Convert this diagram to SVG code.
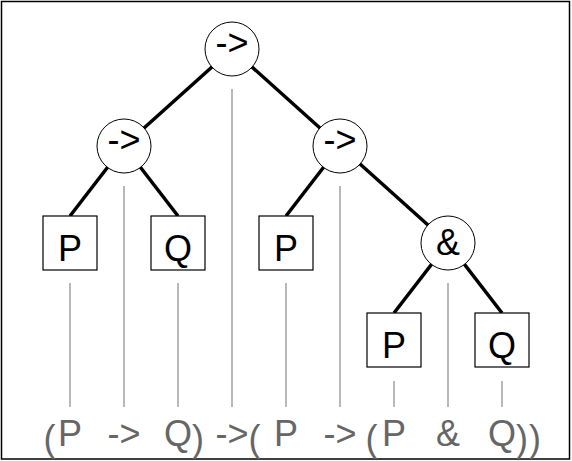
<svg xmlns="http://www.w3.org/2000/svg" width="572" height="461" viewBox="0 0 572 461">
<style>
  .edge { stroke: #000; stroke-width: 3.5; fill: none; }
  .guide { stroke: #a0a0a0; stroke-width: 1.5; fill: none; }
  .op { fill: #fff; stroke: #000; stroke-width: 1; }
  .leaf { fill: #fff; stroke: #000; stroke-width: 1.2; }
  .lbl { font-family: "Liberation Sans", Arial, sans-serif; font-size: 36px; fill: #000; text-anchor: middle; }
  .expr { font-family: "Liberation Sans", Arial, sans-serif; font-size: 36px; fill: #666; }
  .mid { text-anchor: middle; }
</style>
<rect x="0" y="0" width="572" height="461" fill="#fff"/>
<rect x="1.5" y="1.5" width="568" height="457.5" fill="none" stroke="#000" stroke-width="1.5"/>
<g id="guides">
  <line class="guide" x1="70" y1="283" x2="70" y2="407"/>
  <line class="guide" x1="124" y1="186" x2="124" y2="407"/>
  <line class="guide" x1="178" y1="283" x2="178" y2="407"/>
  <line class="guide" x1="232" y1="89" x2="232" y2="407"/>
  <line class="guide" x1="286" y1="283" x2="286" y2="407"/>
  <line class="guide" x1="340" y1="186" x2="340" y2="407"/>
  <line class="guide" x1="394" y1="381" x2="394" y2="407"/>
  <line class="guide" x1="448" y1="283" x2="448" y2="407"/>
  <line class="guide" x1="502" y1="381" x2="502" y2="407"/>
</g>
<g id="connectors">
  <line class="edge" x1="232" y1="49" x2="124" y2="146"/>
  <line class="edge" x1="232" y1="49" x2="340" y2="146"/>
  <line class="edge" x1="124" y1="146" x2="70" y2="216"/>
  <line class="edge" x1="124" y1="146" x2="178" y2="216"/>
  <line class="edge" x1="340" y1="146" x2="286" y2="216"/>
  <line class="edge" x1="340" y1="146" x2="448" y2="243"/>
  <line class="edge" x1="448" y1="243" x2="394" y2="313"/>
  <line class="edge" x1="448" y1="243" x2="502" y2="313"/>
</g>
<g id="n-root">
  <circle class="op" cx="232" cy="49" r="27"/>
  <text class="lbl" x="232" y="55">-&gt;</text>
</g>
<g id="n-left">
  <circle class="op" cx="124" cy="146" r="27"/>
  <text class="lbl" x="124" y="152">-&gt;</text>
</g>
<g id="n-right">
  <circle class="op" cx="340" cy="146" r="27"/>
  <text class="lbl" x="340" y="152">-&gt;</text>
</g>
<g id="n-and">
  <circle class="op" cx="448" cy="243" r="27"/>
  <text class="lbl" x="448" y="255">&amp;</text>
</g>
<g id="n-p1">
  <rect class="leaf" x="43" y="216" width="54" height="54"/>
  <text class="lbl" x="70" y="261">P</text>
</g>
<g id="n-q1">
  <rect class="leaf" x="151" y="216" width="54" height="54"/>
  <text class="lbl" x="178" y="261">Q</text>
</g>
<g id="n-p2">
  <rect class="leaf" x="259" y="216" width="54" height="54"/>
  <text class="lbl" x="286" y="261">P</text>
</g>
<g id="n-p3">
  <rect class="leaf" x="367" y="313" width="54" height="54"/>
  <text class="lbl" x="394" y="358">P</text>
</g>
<g id="n-q3">
  <rect class="leaf" x="475" y="313" width="54" height="54"/>
  <text class="lbl" x="502" y="358">Q</text>
</g>
<g id="expression">
  <text class="expr" x="43.5" y="451">(</text>
  <text class="expr mid" x="70" y="446">P</text>
  <text class="expr mid" x="124" y="446">-&gt;</text>
  <text class="expr mid" x="178" y="446">Q</text>
  <text class="expr" x="192" y="451">)</text>
  <text class="expr mid" x="232" y="446">-&gt;</text>
  <text class="expr" x="248.5" y="451">(</text>
  <text class="expr mid" x="286" y="446">P</text>
  <text class="expr mid" x="340" y="446">-&gt;</text>
  <text class="expr" x="365.5" y="451">(</text>
  <text class="expr mid" x="394" y="446">P</text>
  <text class="expr mid" x="448" y="446">&amp;</text>
  <text class="expr mid" x="502" y="446">Q</text>
  <text class="expr" x="516" y="451">)</text>
  <text class="expr" x="529" y="451">)</text>
</g>
</svg>
